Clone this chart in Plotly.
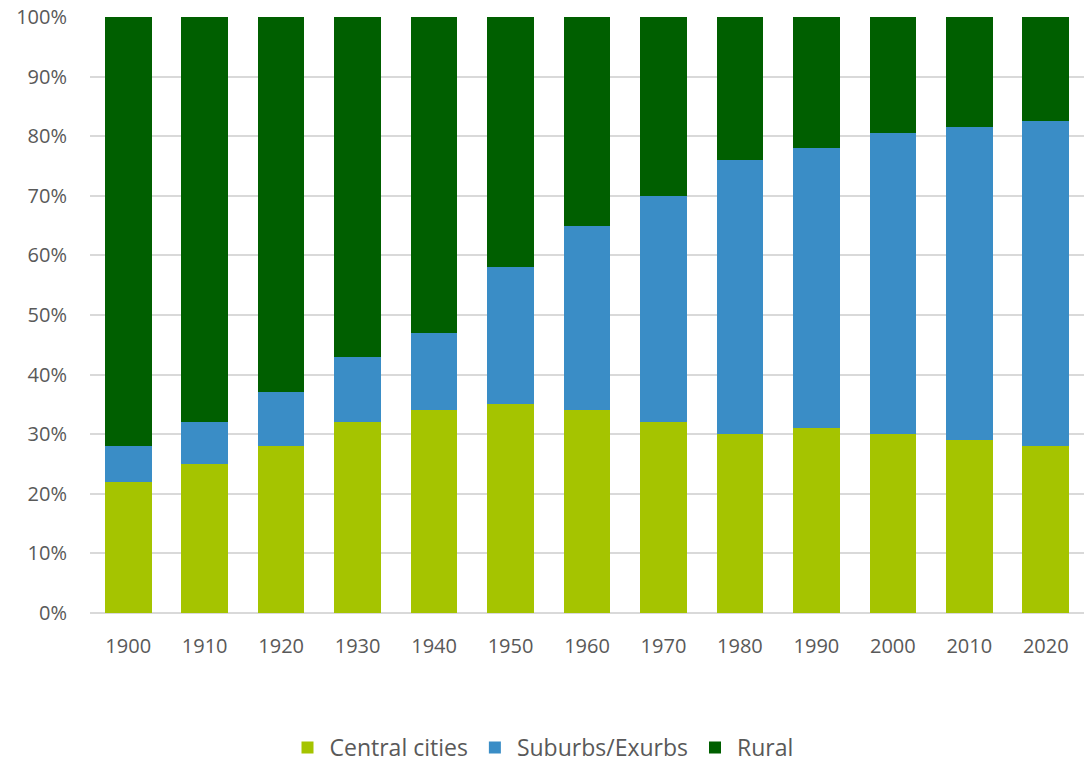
import plotly.graph_objects as go

years = ['1900', '1910', '1920', '1930', '1940', '1950', '1960',
         '1970', '1980', '1990', '2000', '2010', '2020']
central = [22, 25, 28, 32, 34, 35, 34, 32, 30, 31, 30, 29, 28]
suburbs = [6, 7, 9, 11, 13, 23, 31, 38, 46, 47, 50.5, 52.5, 54.6]
rural = [72, 68, 63, 57, 53, 42, 35, 30, 24, 22, 19.5, 18.5, 17.4]

fig = go.Figure()
fig.add_trace(go.Bar(x=years, y=central, name='Central cities', marker_color='#a5c400'))
fig.add_trace(go.Bar(x=years, y=suburbs, name='Suburbs/Exurbs', marker_color='#3a8dc6'))
fig.add_trace(go.Bar(x=years, y=rural, name='Rural', marker_color='#005f00'))

fig.update_traces(marker_line_width=0)

fig.update_layout(
    barmode='stack',
    bargap=0.39,
    width=1084, height=769,
    margin=dict(l=90, r=0, t=17, b=156, pad=0),
    plot_bgcolor='white',
    paper_bgcolor='white',
    font=dict(family='Open Sans, Noto Sans, sans-serif', size=18, color='#595959'),
    legend=dict(orientation='h', x=0.5, xanchor='center', xref='container',
                y=0.0, yanchor='bottom', yref='container',
                font=dict(size=23), itemwidth=34, traceorder='normal'),
)
fig.update_xaxes(showgrid=False, ticks='', tickfont=dict(size=20),
                 automargin=False, ticklabelstandoff=19)
fig.update_yaxes(range=[0, 100], dtick=10, ticksuffix='%', showgrid=True,
                 gridcolor='#d9d9d9', gridwidth=1.5, zeroline=True,
                 zerolinecolor='#d9d9d9', zerolinewidth=1.5, ticklabelstandoff=22,
                 tickfont=dict(size=20), automargin=False, ticklabeloverflow='allow')

# drop the browser's default body margin so the figure fills the window
fig.write_html("out.html", config={'displayModeBar': False},
               post_script="document.body.style.margin='0';")
